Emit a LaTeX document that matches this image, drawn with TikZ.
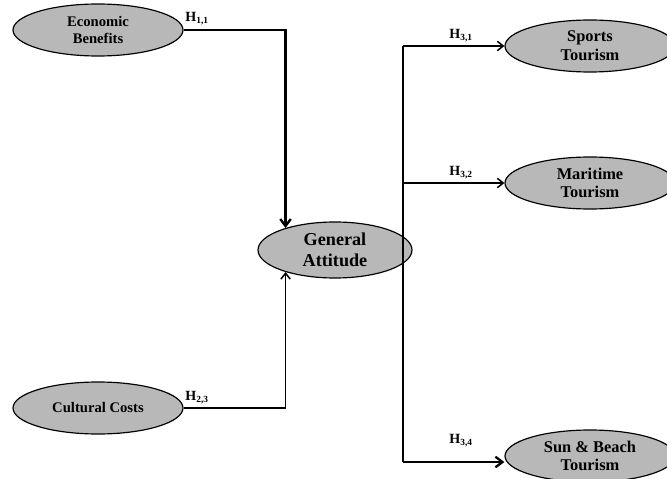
\documentclass[tikz,border=0pt]{standalone}
\usepackage{fontspec}
\setmainfont{Liberation Serif}
\usetikzlibrary{shapes.geometric,arrows.meta}
\begin{document}
\begin{tikzpicture}[x=0.03cm,y=-0.03cm,
  construct/.style={ellipse,draw,line width=1pt,fill=black!28,minimum width=5.1cm,minimum height=1.56cm,
    align=center,inner sep=0pt,font=\fontsize{14}{16}\selectfont\bfseries},
  link/.style={line width=1.3pt,-{Straight Barb[length=5pt,width=8pt]}},
  strong/.style={line width=2pt,-{Straight Barb[length=6pt,width=9pt]}},
  hyp/.style={font=\fontsize{12}{14}\selectfont\bfseries,inner sep=1pt},
  ]
\useasboundingbox (0,0) rectangle (667,479);

\node[construct,font=\fontsize{12.5}{14.5}\selectfont\bfseries] (econ) at (98,30) {Economic\\Benefits};
\node[construct,font=\fontsize{12.5}{14.5}\selectfont\bfseries] (cult) at (98,408) {Cultural Costs};
\node[construct,minimum width=4.62cm,minimum height=1.68cm,font=\fontsize{15.5}{18}\selectfont\bfseries] (gen) at (335,250) {General\\Attitude};
\node[construct] (sport) at (590,46) {Sports\\Tourism};
\node[construct] (mari) at (590,183) {Maritime\\Tourism};
\node[construct] (sun) at (590,456) {Sun \& Beach\\Tourism};

\coordinate (b1) at (403,46);
\coordinate (b2) at (403,183);
\coordinate (b4) at (403,462);

\draw[strong] (econ.east) -| (gen.156);
\draw[link] (cult.east) -| (gen.204);
\draw[line width=1.3pt] (b1) -- (b4);
\draw[link] (b1) -- (sport.west);
\draw[link] (b2) -- (mari.west);
\draw[strong] (b4) -- (b4 -| sun.west);

\node[hyp] (h11) at (197,19) {H\textsubscript{1,1}};
\node[hyp] (h23) at (197,398) {H\textsubscript{2,3}};
\node[hyp] (h31) at (461,36) {H\textsubscript{3,1}};
\node[hyp] (h32) at (461,173) {H\textsubscript{3,2}};
\node[hyp] (h34) at (461,441) {H\textsubscript{3,4}};
\end{tikzpicture}
\end{document}
